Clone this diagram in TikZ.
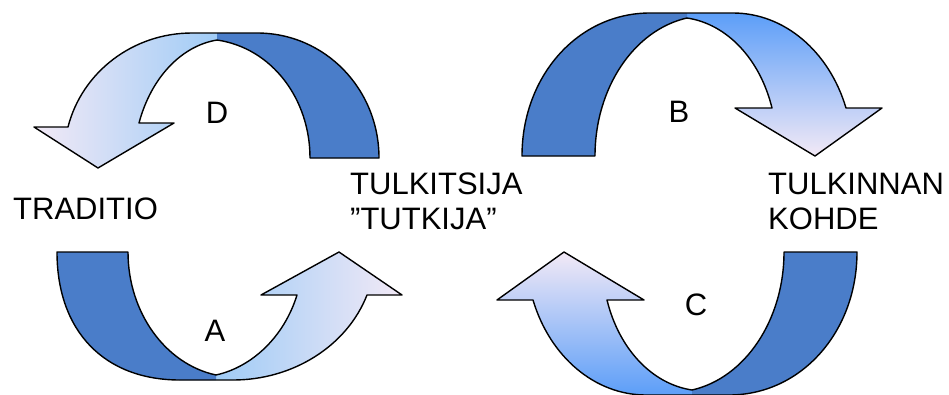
\documentclass[tikz,border=0pt]{standalone}
\usepackage{fontspec}
\setmainfont{Liberation Sans}
\definecolor{bandblue}{RGB}{74,125,201}
\definecolor{lavend}{RGB}{242,233,246}
\definecolor{skyblue}{RGB}{88,178,246}
\definecolor{deepsky}{RGB}{92,158,248}
\definecolor{midsky}{RGB}{140,194,248}
\tikzset{outline/.style={draw=black,line width=1.4pt,line join=round},
  band/.style={fill=bandblue},
  txt/.style={font=\fontsize{31}{35}\selectfont,inner sep=0pt,align=left}}
\begin{document}
\begin{tikzpicture}[x=1pt,y=-1pt]
\useasboundingbox (0,0) rectangle (949,394);
% D: back to traditio
\shade[left color=lavend,right color=skyblue,save path=\arrowD]
  (310,158) -- (379,158) .. controls (379,89) and (325,33) .. (257,33) -- (192,33)
  .. controls (133,33) and (82,72) .. (68,127) -- (34,127) -- (98,168) -- (174,123) -- (139,123)
  .. controls (151,78) and (181,46) .. (217,40) .. controls (272,48) and (310,99) .. (310,158) -- cycle;
\begin{scope}
\clip[use path=\arrowD];
\fill[band] (217,40) -- (217,20) -- (400,20) -- (400,175) -- (310,175) -- (310,158)
  .. controls (310,99) and (272,48) .. (217,40) -- cycle;
\end{scope}
\draw[outline,use path=\arrowD];
% B: to tulkinnan kohde
\shade[top color=deepsky,middle color=midsky,bottom color=lavend,save path=\arrowB]
  (595,156) -- (522,156) .. controls (522,76) and (578,13) .. (650,13) -- (733,13)
  .. controls (784,13) and (829,51) .. (846,108) -- (882,108) -- (815,156) -- (735,108) -- (772,108)
  .. controls (760,59) and (727,24) .. (687,18) .. controls (634,30) and (595,88) .. (595,156) -- cycle;
\begin{scope}
\clip[use path=\arrowB];
\fill[band] (687,18) -- (687,0) -- (505,0) -- (505,170) -- (595,170) -- (595,156)
  .. controls (595,88) and (634,30) .. (687,18) -- cycle;
\end{scope}
\draw[outline,use path=\arrowB];
% A: traditio to tulkitsija
\shade[left color=skyblue,right color=lavend,save path=\arrowA]
  (128,252) -- (57,252) .. controls (57,331) and (104,380) .. (180,380) -- (233,380)
  .. controls (293,380) and (347,346) .. (367,295) -- (402,295) -- (339,252) -- (261,295) -- (297,295)
  .. controls (284,337) and (252,367) .. (216,375) .. controls (165,364) and (128,312) .. (128,252) -- cycle;
\begin{scope}
\clip[use path=\arrowA];
\fill[band] (216,375) -- (216,400) -- (40,400) -- (40,240) -- (128,240) -- (128,252)
  .. controls (128,312) and (165,364) .. (216,375) -- cycle;
\end{scope}
\draw[outline,use path=\arrowA];
% C: kohde back to tulkitsija
\shade[bottom color=deepsky,middle color=midsky,top color=lavend,save path=\arrowC]
  (784,252) -- (857,252) .. controls (857,332) and (801,395) .. (729,395) -- (646,395)
  .. controls (595,395) and (550,357) .. (533,300) -- (497,300) -- (564,252) -- (644,300) -- (607,300)
  .. controls (619,349) and (652,384) .. (692,390) .. controls (745,378) and (784,320) .. (784,252) -- cycle;
\begin{scope}
\clip[use path=\arrowC];
\fill[band] (692,390) -- (692,410) -- (875,410) -- (875,240) -- (784,240) -- (784,252)
  .. controls (784,320) and (745,378) .. (692,390) -- cycle;
\end{scope}
\draw[outline,use path=\arrowC];
% texts
\node[txt,anchor=base west] (traditio) at (13,219) {TRADITIO};
\node[txt,anchor=north west] (tulkitsija) at (350,173) {TULKITSIJA\\”TUTKIJA”};
\node[txt,anchor=north west] (kohde) at (768,173) {TULKINNAN\\KOHDE};
\node[txt] (labD) at (217,113) {D};
\node[txt] (labB) at (679,112) {B};
\node[txt] (labA) at (215,331) {A};
\node[txt] (labC) at (696,305) {C};
\end{tikzpicture}
\end{document}
